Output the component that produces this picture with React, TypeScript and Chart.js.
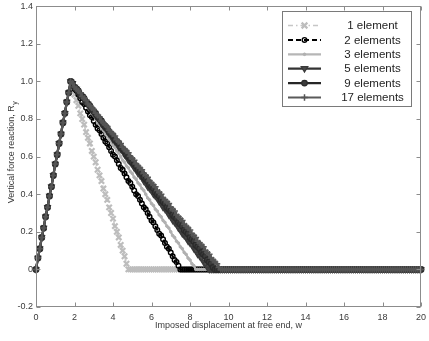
import React, { useEffect, useRef } from 'react';
import { Chart, registerables } from 'chart.js';

Chart.register(...registerables);

// Imposed displacement at free end, w
const displacement = [
  0, 0.1, 0.2, 0.3, 0.4, 0.5, 0.6, 0.7, 0.8, 0.9,
  1, 1.1, 1.2, 1.3, 1.4, 1.5, 1.6, 1.7, 1.8, 1.9,
  2, 2.1, 2.2, 2.3, 2.4, 2.5, 2.6, 2.7, 2.8, 2.9,
  3, 3.1, 3.2, 3.3, 3.4, 3.5, 3.6, 3.7, 3.8, 3.9,
  4, 4.1, 4.2, 4.3, 4.4, 4.5, 4.6, 4.7, 4.8, 4.9,
  5, 5.1, 5.2, 5.3, 5.4, 5.5, 5.6, 5.7, 5.8, 5.9,
  6, 6.1, 6.2, 6.3, 6.4, 6.5, 6.6, 6.7, 6.8, 6.9,
  7, 7.1, 7.2, 7.3, 7.4, 7.5, 7.6, 7.7, 7.8, 7.9,
  8, 8.1, 8.2, 8.3, 8.4, 8.5, 8.6, 8.7, 8.8, 8.9,
  9, 9.1, 9.2, 9.3, 9.4, 9.5, 9.6, 9.7, 9.8, 9.9,
  10, 10.1, 10.2, 10.3, 10.4, 10.5, 10.6, 10.7, 10.8, 10.9,
  11, 11.1, 11.2, 11.3, 11.4, 11.5, 11.6, 11.7, 11.8, 11.9,
  12, 12.1, 12.2, 12.3, 12.4, 12.5, 12.6, 12.7, 12.8, 12.9,
  13, 13.1, 13.2, 13.3, 13.4, 13.5, 13.6, 13.7, 13.8, 13.9,
  14, 14.1, 14.2, 14.3, 14.4, 14.5, 14.6, 14.7, 14.8, 14.9,
  15, 15.1, 15.2, 15.3, 15.4, 15.5, 15.6, 15.7, 15.8, 15.9,
  16, 16.1, 16.2, 16.3, 16.4, 16.5, 16.6, 16.7, 16.8, 16.9,
  17, 17.1, 17.2, 17.3, 17.4, 17.5, 17.6, 17.7, 17.8, 17.9,
  18, 18.1, 18.2, 18.3, 18.4, 18.5, 18.6, 18.7, 18.8, 18.9,
  19, 19.1, 19.2, 19.3, 19.4, 19.5, 19.6, 19.7, 19.8, 19.9,
  20,
];

// Vertical force reaction, Ry
const oneElement = [
  0, .06, .11, .17, .22, .28, .33, .39, .44, .5, .56, .61, .67, .72, .78, .83, .89, .94, 1,
  .97, .93, .9, .87, .83, .8, .77, .73, .7, .67,
  .63, .6, .57, .53, .5, .47, .43, .4, .37, .33,
  .3, .27, .23, .2, .17, .13, .1, .07, .03, 0,
  0, 0, 0, 0, 0, 0, 0, 0, 0, 0, 0, 0, 0, 0, 0, 0, 0, 0, 0, 0,
  0, 0, 0, 0, 0, 0, 0, 0, 0, 0, 0, 0, 0, 0, 0, 0, 0, 0, 0, 0,
  0, 0, 0, 0, 0, 0, 0, 0, 0, 0, 0, 0, 0, 0, 0, 0, 0, 0, 0, 0,
  0, 0, 0, 0, 0, 0, 0, 0, 0, 0, 0, 0, 0, 0, 0, 0, 0, 0, 0, 0,
  0, 0, 0, 0, 0, 0, 0, 0, 0, 0, 0, 0, 0, 0, 0, 0, 0, 0, 0, 0,
  0, 0, 0, 0, 0, 0, 0, 0, 0, 0, 0, 0, 0, 0, 0, 0, 0, 0, 0, 0,
  0, 0, 0, 0, 0, 0, 0, 0, 0, 0, 0, 0, 0, 0, 0, 0, 0, 0, 0, 0,
  0, 0, 0, 0, 0, 0, 0, 0, 0, 0,
  0, 0,
];

const twoElements = [
  0, .06, .11, .17, .22, .28, .33, .39, .44, .5, .56, .61, .67, .72, .78, .83, .89, .94, 1,
  .98, .96, .95, .93, .91, .89, .88, .86, .84, .82,
  .81, .79, .77, .75, .74, .72, .7, .68, .67, .65,
  .63, .61, .6, .58, .56, .54, .53, .51, .49, .47,
  .46, .44, .42, .4, .39, .37, .35, .33, .32, .3,
  .28, .26, .25, .23, .21, .19, .18, .16, .14, .12,
  .11, .09, .07, .05, .04, .02, 0,
  0, 0, 0, 0, 0, 0, 0, 0, 0, 0, 0, 0, 0, 0, 0, 0, 0, 0, 0, 0,
  0, 0, 0, 0, 0, 0, 0, 0, 0, 0, 0, 0, 0, 0, 0, 0, 0, 0, 0, 0,
  0, 0, 0, 0, 0, 0, 0, 0, 0, 0, 0, 0, 0, 0, 0, 0, 0, 0, 0, 0,
  0, 0, 0, 0, 0, 0, 0, 0, 0, 0, 0, 0, 0, 0, 0, 0, 0, 0, 0, 0,
  0, 0, 0, 0, 0, 0, 0, 0, 0, 0, 0, 0, 0, 0, 0, 0, 0, 0, 0, 0,
  0, 0, 0, 0, 0, 0, 0, 0, 0, 0, 0, 0, 0, 0, 0, 0, 0, 0, 0, 0,
  0, 0, 0, 0, 0,
];

const threeElements = [
  0, .06, .11, .17, .22, .28, .33, .39, .44, .5, .56, .61, .67, .72, .78, .83, .89, .94, 1,
  .98, .97, .95, .94, .92, .91, .89, .88, .86, .85,
  .83, .82, .8, .78, .77, .75, .74, .72, .71, .69,
  .68, .66, .65, .63, .62, .6, .58, .57, .55, .54,
  .52, .51, .49, .48, .46, .45, .43, .42, .4, .38,
  .37, .35, .34, .32, .31, .29, .28, .26, .25, .23,
  .22, .2, .18, .17, .15, .14, .12, .11, .09, .08,
  .06, .05, .03, .02, 0,
  0, 0, 0, 0, 0, 0, 0, 0, 0, 0, 0, 0, 0, 0, 0, 0, 0, 0, 0, 0,
  0, 0, 0, 0, 0, 0, 0, 0, 0, 0, 0, 0, 0, 0, 0, 0, 0, 0, 0, 0,
  0, 0, 0, 0, 0, 0, 0, 0, 0, 0, 0, 0, 0, 0, 0, 0, 0, 0, 0, 0,
  0, 0, 0, 0, 0, 0, 0, 0, 0, 0, 0, 0, 0, 0, 0, 0, 0, 0, 0, 0,
  0, 0, 0, 0, 0, 0, 0, 0, 0, 0, 0, 0, 0, 0, 0, 0, 0, 0, 0, 0,
  0, 0, 0, 0, 0, 0, 0, 0, 0, 0,
  0, 0, 0, 0, 0, 0, 0,
];

const fiveElements = [
  0, .06, .11, .17, .22, .28, .33, .39, .44, .5, .56, .61, .67, .72, .78, .83, .89, .94, 1,
  .99, .97, .96, .94, .93, .92, .9, .89, .88, .86,
  .85, .83, .82, .81, .79, .78, .76, .75, .74, .72,
  .71, .69, .68, .67, .65, .64, .63, .61, .6, .58,
  .57, .56, .54, .53, .51, .5, .49, .47, .46, .44,
  .43, .42, .4, .39, .38, .36, .35, .33, .32, .31,
  .29, .28, .26, .25, .24, .22, .21, .19, .18, .17,
  .15, .14, .13, .11, .1, .08, .07, .06, .04, .03,
  .01, 0,
  0, 0, 0, 0, 0, 0, 0, 0, 0, 0, 0, 0, 0, 0, 0, 0, 0, 0, 0, 0,
  0, 0, 0, 0, 0, 0, 0, 0, 0, 0, 0, 0, 0, 0, 0, 0, 0, 0, 0, 0,
  0, 0, 0, 0, 0, 0, 0, 0, 0, 0, 0, 0, 0, 0, 0, 0, 0, 0, 0, 0,
  0, 0, 0, 0, 0, 0, 0, 0, 0, 0, 0, 0, 0, 0, 0, 0, 0, 0, 0, 0,
  0, 0, 0, 0, 0, 0, 0, 0, 0, 0, 0, 0, 0, 0, 0, 0, 0, 0, 0, 0,
  0, 0, 0, 0, 0, 0, 0, 0, 0, 0,
];

const nineElements = [
  0, .06, .11, .17, .22, .28, .33, .39, .44, .5, .56, .61, .67, .72, .78, .83, .89, .94, 1,
  .99, .97, .96, .95, .93, .92, .91, .89, .88, .87,
  .85, .84, .83, .81, .8, .79, .77, .76, .75, .73,
  .72, .71, .69, .68, .67, .65, .64, .63, .61, .6,
  .59, .57, .56, .55, .53, .52, .51, .49, .48, .47,
  .45, .44, .43, .41, .4, .39, .37, .36, .35, .33,
  .32, .31, .29, .28, .27, .25, .24, .23, .21, .2,
  .19, .17, .16, .15, .13, .12, .11, .09, .08, .07,
  .05, .04, .03, .01, 0,
  0, 0, 0, 0, 0, 0, 0, 0, 0, 0, 0, 0, 0, 0, 0, 0, 0, 0, 0, 0,
  0, 0, 0, 0, 0, 0, 0, 0, 0, 0, 0, 0, 0, 0, 0, 0, 0, 0, 0, 0,
  0, 0, 0, 0, 0, 0, 0, 0, 0, 0, 0, 0, 0, 0, 0, 0, 0, 0, 0, 0,
  0, 0, 0, 0, 0, 0, 0, 0, 0, 0, 0, 0, 0, 0, 0, 0, 0, 0, 0, 0,
  0, 0, 0, 0, 0, 0, 0, 0, 0, 0, 0, 0, 0, 0, 0, 0, 0, 0, 0, 0,
  0, 0, 0, 0, 0, 0, 0,
];

const seventeenElements = [
  0, .06, .11, .17, .22, .28, .33, .39, .44, .5, .56, .61, .67, .72, .78, .83, .89, .94, 1,
  .99, .97, .96, .95, .94, .92, .91, .9, .88, .87,
  .86, .85, .83, .82, .81, .79, .78, .77, .76, .74,
  .73, .72, .71, .69, .68, .67, .65, .64, .63, .62,
  .6, .59, .58, .56, .55, .54, .53, .51, .5, .49,
  .47, .46, .45, .44, .42, .41, .4, .38, .37, .36,
  .35, .33, .32, .31, .29, .28, .27, .26, .24, .23,
  .22, .21, .19, .18, .17, .15, .14, .13, .12, .1,
  .09, .08, .06, .05, .04, .03, .01, 0,
  0, 0, 0, 0, 0, 0, 0, 0, 0, 0, 0, 0, 0, 0, 0, 0, 0, 0, 0, 0,
  0, 0, 0, 0, 0, 0, 0, 0, 0, 0, 0, 0, 0, 0, 0, 0, 0, 0, 0, 0,
  0, 0, 0, 0, 0, 0, 0, 0, 0, 0, 0, 0, 0, 0, 0, 0, 0, 0, 0, 0,
  0, 0, 0, 0, 0, 0, 0, 0, 0, 0, 0, 0, 0, 0, 0, 0, 0, 0, 0, 0,
  0, 0, 0, 0, 0, 0, 0, 0, 0, 0, 0, 0, 0, 0, 0, 0, 0, 0, 0, 0,
  0, 0, 0, 0,
];

const seriesLabels = ['1 element', '2 elements', '3 elements', '5 elements', '9 elements', '17 elements'];
const seriesValues = [oneElement, twoElements, threeElements, fiveElements, nineElements, seventeenElements];

const xTitle = 'Imposed displacement at free end, w';
const yTitleMain = 'Vertical force reaction, R';
const yTitleSub = 'y';

const FONT = '"Liberation Sans", Arial, Helvetica, sans-serif';
const AXIS_COLOR = '#8c8c8c';
const TEXT_COLOR = '#3a3a3a';

type Style = {
  color: string; width: number; dash: number[]; marker: string; rotation?: number;
  radius: number; markerColor: string; markerWidth: number; markerFill: string;
};

const styles: Style[] = [
  { color: '#c6c6c6', width: 1.5, dash: [5, 3, 1.5, 3], marker: 'crossRot', radius: 3.8, markerColor: '#bdbdbd', markerWidth: 2.2, markerFill: '#bdbdbd' },
  { color: '#000000', width: 2, dash: [5, 3], marker: 'circle', radius: 2.3, markerColor: '#000000', markerWidth: 1.4, markerFill: 'rgba(255,255,255,0)' },
  { color: '#b6b6b6', width: 2.2, dash: [], marker: 'circle', radius: 1.3, markerColor: '#b0b0b0', markerWidth: 1, markerFill: '#b0b0b0' },
  { color: '#333333', width: 2.2, dash: [], marker: 'triangle', rotation: 180, radius: 3.3, markerColor: '#3a3a3a', markerWidth: 1.2, markerFill: '#4a4a4a' },
  { color: '#262626', width: 2.2, dash: [], marker: 'circle', radius: 2.8, markerColor: '#2a2a2a', markerWidth: 1.2, markerFill: '#3c3c3c' },
  { color: '#5a5a5a', width: 2.2, dash: [], marker: 'cross', radius: 3.3, markerColor: '#555555', markerWidth: 1.5, markerFill: '#555555' },
];

function drawMarker(ctx: CanvasRenderingContext2D, s: Style, x: number, y: number) {
  const r = s.radius;
  ctx.save();
  ctx.setLineDash([]);
  ctx.strokeStyle = s.markerColor;
  ctx.fillStyle = s.markerFill;
  ctx.lineWidth = s.markerWidth;
  ctx.beginPath();
  if (s.marker === 'crossRot') {
    const d = r * 0.75;
    ctx.moveTo(x - d, y - d); ctx.lineTo(x + d, y + d);
    ctx.moveTo(x - d, y + d); ctx.lineTo(x + d, y - d);
    ctx.stroke();
  } else if (s.marker === 'cross') {
    ctx.moveTo(x - r, y); ctx.lineTo(x + r, y);
    ctx.moveTo(x, y - r); ctx.lineTo(x, y + r);
    ctx.stroke();
  } else if (s.marker === 'triangle') {
    ctx.moveTo(x - r, y - r * 0.6);
    ctx.lineTo(x + r, y - r * 0.6);
    ctx.lineTo(x, y + r);
    ctx.closePath();
    ctx.fill(); ctx.stroke();
  } else {
    ctx.arc(x, y, r, 0, Math.PI * 2);
    ctx.fill(); ctx.stroke();
  }
  ctx.restore();
}

const framePlugin = {
  id: 'matlabFrame',
  afterDatasetsDraw(chart: any) {
    const { ctx, chartArea: a, scales } = chart;
    const xs = scales.x;
    const ys = scales.y;
    ctx.save();
    const L = Math.round(a.left) + 0.5;
    const R = Math.round(a.right) - 0.5;
    const T = Math.round(a.top) + 0.5;
    const B = Math.round(a.bottom) - 0.5;
    ctx.strokeStyle = AXIS_COLOR;
    ctx.lineWidth = 1;
    ctx.setLineDash([]);
    ctx.strokeRect(L, T, R - L, B - T);
    const tl = 4;
    ctx.beginPath();
    xs.ticks.forEach((t: any) => {
      const px = Math.round(xs.getPixelForValue(t.value)) + 0.5;
      ctx.moveTo(px, B); ctx.lineTo(px, B - tl);
      ctx.moveTo(px, T); ctx.lineTo(px, T + tl);
    });
    ys.ticks.forEach((t: any) => {
      const py = Math.round(ys.getPixelForValue(t.value)) + 0.5;
      ctx.moveTo(L, py); ctx.lineTo(L + tl, py);
      ctx.moveTo(R, py); ctx.lineTo(R - tl, py);
    });
    ctx.stroke();

    ctx.fillStyle = TEXT_COLOR;
    ctx.font = `9px ${FONT}`;
    ctx.textAlign = 'center';
    ctx.textBaseline = 'middle';
    ctx.fillText(xTitle, (a.left + a.right) / 2, 325.5);

    ctx.save();
    ctx.translate(12, (a.top + a.bottom) / 2 - 4);
    ctx.rotate(-Math.PI / 2);
    ctx.font = `9px ${FONT}`;
    const wMain = ctx.measureText(yTitleMain).width;
    ctx.font = `7px ${FONT}`;
    const wSub = ctx.measureText(yTitleSub).width;
    const start = -(wMain + wSub) / 2;
    ctx.textAlign = 'left';
    ctx.font = `9px ${FONT}`;
    ctx.fillText(yTitleMain, start, 0);
    ctx.font = `7px ${FONT}`;
    ctx.fillText(yTitleSub, start + wMain + 0.5, 3);
    ctx.restore();

    const lx = 282, ly = 11, lw = 129, lh = 95;
    ctx.fillStyle = '#ffffff';
    ctx.fillRect(lx, ly, lw, lh);
    ctx.strokeStyle = '#7a7a7a';
    ctx.strokeRect(lx + 0.5, ly + 0.5, lw, lh);
    seriesLabels.forEach((label, i) => {
      const s = styles[i];
      const cy = 25.5 + i * 14.4;
      ctx.save();
      ctx.strokeStyle = s.color;
      ctx.lineWidth = s.width;
      ctx.setLineDash(s.dash);
      ctx.beginPath();
      ctx.moveTo(288, cy);
      ctx.lineTo(321, cy);
      ctx.stroke();
      ctx.restore();
      drawMarker(ctx, s, 304.5, cy);
      ctx.fillStyle = '#1e1e1e';
      ctx.font = `11.5px ${FONT}`;
      ctx.textAlign = 'center';
      ctx.textBaseline = 'middle';
      ctx.fillText(label, 372.5, cy + 0.5);
    });
    ctx.restore();
  },
};

export default function App() {
  const canvasRef = useRef<HTMLCanvasElement | null>(null);

  useEffect(() => {
    const canvas = canvasRef.current;
    if (!canvas) return;
    const datasets = seriesValues.map((vals, i) => {
      const s = styles[i];
      return {
        label: seriesLabels[i],
        data: vals.map((y, k) => ({ x: displacement[k], y })),
        borderColor: s.color,
        borderWidth: s.width,
        borderDash: s.dash,
        pointStyle: s.marker,
        rotation: s.rotation || 0,
        pointRadius: s.radius,
        pointBorderColor: s.markerColor,
        pointBackgroundColor: s.markerFill,
        pointBorderWidth: s.markerWidth,
        tension: 0,
        fill: false,
        clip: false,
        order: seriesValues.length - 1 - i,
      };
    });

    const chart = new Chart(canvas, {
      type: 'line',
      data: { datasets } as any,
      options: {
        animation: false,
        responsive: false,
        maintainAspectRatio: false,
        events: [],
        layout: { padding: { top: 5, right: 8, left: 0, bottom: 0 } },
        plugins: {
          legend: { display: false },
          tooltip: { enabled: false },
          title: { display: false },
        },
        scales: {
          x: {
            type: 'linear',
            min: 0,
            max: 20,
            grid: { display: false, drawTicks: false },
            border: { display: false },
            ticks: {
              stepSize: 2,
              autoSkip: false,
              maxRotation: 0,
              padding: 5,
              color: TEXT_COLOR,
              font: { family: FONT, size: 9 },
              callback: (v: any) => String(Math.round(Number(v))),
            },
            afterFit: (scale: any) => {
              scale.height = 34;
              scale.paddingLeft = 0;
              scale.paddingRight = 0;
            },
          },
          y: {
            type: 'linear',
            min: -0.2,
            max: 1.4,
            grid: { display: false, drawTicks: false },
            border: { display: false },
            ticks: {
              stepSize: 0.2,
              autoSkip: false,
              padding: 3,
              color: TEXT_COLOR,
              font: { family: FONT, size: 9 },
              callback: (v: any) => (Math.abs(Number(v)) < 1e-9 ? '0' : Number(v).toFixed(1)),
            },
            afterFit: (scale: any) => {
              scale.width = 36;
              scale.paddingTop = 0;
              scale.paddingBottom = 0;
            },
          },
        },
      } as any,
      plugins: [framePlugin],
    });
    return () => chart.destroy();
  }, []);

  return (
    <div style={{ position: 'fixed', left: 0, top: 0, width: 429, height: 341, background: '#ffffff' }}>
      <canvas ref={canvasRef} width={429} height={341} style={{ display: 'block', width: 429, height: 341 }} />
    </div>
  );
}
